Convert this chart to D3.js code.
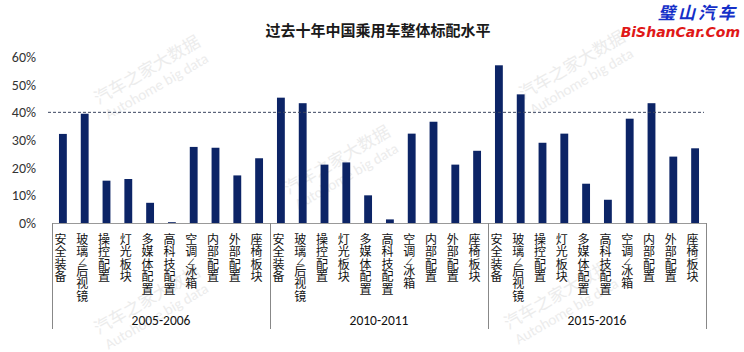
<!DOCTYPE html>
<html>
<head>
<meta charset="utf-8">
<script src="https://cdn.jsdelivr.net/npm/d3@7"></script>
<style>
  html, body { margin: 0; padding: 0; background: #fff; }
  svg { display: block; font-family: "Noto Sans CJK SC", "Noto Sans", sans-serif; }
</style>
</head>
<body>
<script>
// 过去十年中国乘用车整体标配水平
const W = 744, H = 352;

const periods = ["2005-2006", "2010-2011", "2015-2016"];
const features = ["安全装备", "玻璃/后视镜", "操控配置", "灯光板块", "多媒体配置",
                  "高科技配置", "空调/冰箱", "内部配置", "外部配置", "座椅板块"];
const values2005 = [32.2, 39.5, 15.3, 15.9, 7.3, 0.3, 27.5, 27.2, 17.2, 23.4];
const values2010 = [45.3, 43.3, 21.1, 21.9, 10.0, 1.3, 32.3, 36.6, 21.1, 26.1];
const values2015 = [57.0, 46.5, 29.0, 32.3, 14.2, 8.4, 37.7, 43.3, 24.0, 27.0];
const yTicks = [0, 10, 20, 30, 40, 50, 60];
const refLine = 40;

const allValues = [values2005, values2010, values2015];
const rows = [];
periods.forEach((p, gi) => {
    features.forEach((f, i) => rows.push({ key: p + "|" + f, period: p, feature: f, value: allValues[gi][i] }));
});

const plot = { left: 52, right: 706, top: 57, bottom: 223 };

const svg = d3.select("body").append("svg").attr("width", W).attr("height", H);

// ── watermarks ─────────────────────────────────────────────
const marks = [[150, 75], [340, 165], [575, 70], [150, 305], [560, 300]];
marks.forEach(([mx, my]) => {
    const g = svg.append("g").attr("transform", `translate(${mx},${my}) rotate(-30)`)
        .attr("fill", "#ececec");
    g.append("text").attr("text-anchor", "middle").attr("font-size", 17).text("汽车之家大数据");
    g.append("text").attr("text-anchor", "middle").attr("y", 18).attr("font-size", 15)
        .attr("font-family", "Calibri, 'Liberation Sans', sans-serif").text("Autohome big data");
});

const x = d3.scaleBand().domain(rows.map(d => d.key)).range([plot.left, plot.right]).paddingInner(0.64).paddingOuter(0.32);
const xGroup = d3.scaleBand().domain(periods).range([plot.left, plot.right]);
const y = d3.scaleLinear().domain([0, 60]).range([plot.bottom, plot.top]);

// title
svg.append("text").attr("x", 378).attr("y", 36).attr("text-anchor", "middle")
    .attr("font-size", 15).attr("font-weight", "bold").attr("fill", "#1a1a1a")
    .text("过去十年中国乘用车整体标配水平");

// logo
svg.append("text").attr("x", 738).attr("y", 19).attr("text-anchor", "end")
    .attr("font-size", 17).attr("font-weight", "bold").attr("font-style", "italic")
    .attr("fill", "#1530c8").attr("letter-spacing", 3).text("璧山汽车");
svg.append("text").attr("x", 740).attr("y", 37).attr("text-anchor", "end")
    .attr("font-size", 14).attr("font-weight", "bold").attr("font-style", "italic")
    .attr("font-family", "'DejaVu Sans', sans-serif")
    .attr("fill", "#e01818").text("BiShanCar.Com");

// y axis labels
const yAxis = svg.append("g").attr("transform", `translate(${plot.left - 13},0)`)
    .call(d3.axisLeft(y).tickValues(yTicks).tickFormat(d => d + "%").tickSize(0));
yAxis.select(".domain").remove();
yAxis.selectAll("text").attr("font-size", 14).attr("fill", "#333")
    .attr("font-family", "Calibri, 'Liberation Sans', sans-serif");

// bars
svg.append("g").selectAll("rect").data(rows).join("rect")
    .attr("x", d => x(d.key)).attr("width", x.bandwidth())
    .attr("y", d => y(d.value)).attr("height", d => y(0) - y(d.value))
    .attr("fill", "#0c2466");

// dashed reference line
svg.append("line")
    .attr("x1", plot.left - 4).attr("x2", plot.right - 2)
    .attr("y1", y(refLine)).attr("y2", y(refLine))
    .attr("stroke", "#3a4560").attr("stroke-width", 1).attr("stroke-dasharray", "3,2");

// x axis line
svg.append("line").attr("x1", plot.left).attr("x2", plot.right)
    .attr("y1", y(0) + 0.5).attr("y2", y(0) + 0.5).attr("stroke", "#999");

// group separators
const sepBottom = 329;
[...periods.map(p => xGroup(p)), plot.right].forEach(sx => {
    svg.append("line").attr("x1", Math.round(sx) + 0.5).attr("x2", Math.round(sx) + 0.5)
        .attr("y1", y(0)).attr("y2", sepBottom).attr("stroke", "#888");
});

// category labels, one character per line
const labelG = svg.append("g").attr("font-size", 12).attr("fill", "#111");
rows.forEach(d => {
    const cx = x(d.key) + x.bandwidth() / 2 - 2.5;
    let cy = 244;
    [...d.feature].forEach(ch => {
        if (ch === "/") {
            labelG.append("text").attr("x", cx).attr("y", cy - 3.5)
                .attr("text-anchor", "middle").attr("font-size", 9).text("∠");
            cy += 7;
        } else {
            labelG.append("text").attr("x", cx).attr("y", cy)
                .attr("text-anchor", "middle").text(ch);
            cy += 12.4;
        }
    });
});

// group labels
svg.append("g").selectAll("text").data(periods).join("text")
    .attr("x", d => xGroup(d) + xGroup.bandwidth() / 2).attr("y", 325)
    .attr("text-anchor", "middle").attr("font-size", 13.5).attr("fill", "#111")
    .attr("font-family", "Calibri, 'Liberation Sans', sans-serif")
    .text(d => d);
</script>
</body>
</html>
